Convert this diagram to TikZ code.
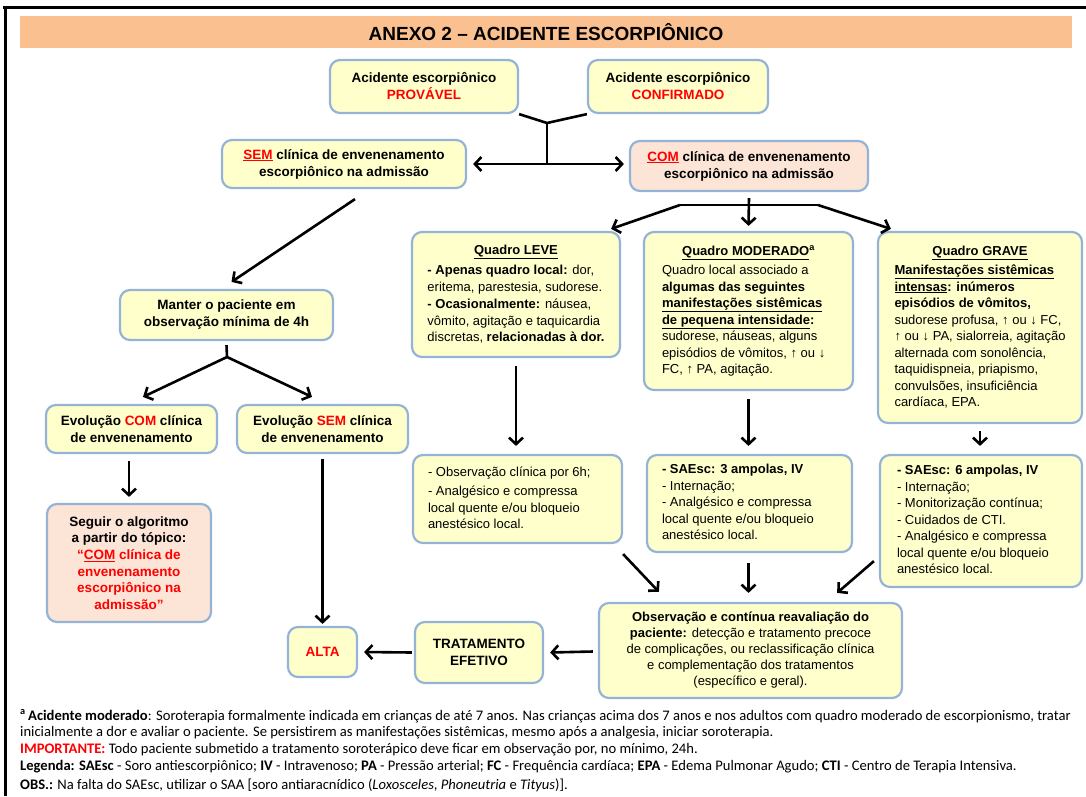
\documentclass[tikz,border=0pt]{standalone}
\usepackage{fontspec}
\setmainfont{Liberation Sans}
\newfontfamily\notefont{Carlito}
\usetikzlibrary{arrows.meta,calc}
\definecolor{boxfill}{HTML}{FFFFCC}
\definecolor{boxline}{HTML}{95B3D7}
\definecolor{pinkfill}{HTML}{FCE4D6}
\definecolor{titlefill}{HTML}{FAC090}
\definecolor{alert}{HTML}{FF0000}
\begin{document}
\begin{tikzpicture}[x=1pt,y=-1pt,
  box/.style={draw=boxline, line width=2.2pt, fill=boxfill, rounded corners=10pt, inner sep=0pt, align=center, font=\fontsize{13}{16.5}\selectfont},
  pbox/.style={box, fill=pinkfill},
  bbox/.style={box, font=\bfseries\fontsize{13.5}{17}\selectfont},
  ln/.style={line width=2.6pt},
  arr/.style={ln, -{Straight Barb[length=6.5pt,width=14pt]}},
  note/.style={anchor=base west, inner sep=0pt, font=\notefont\fontsize{14.6}{17}\selectfont},
]
\useasboundingbox (0,0) rectangle (1086,796);
% frame
\draw[line width=3pt] (3,7) -- (1086,7);
\draw[line width=3pt] (5,7) -- (5,796);
% title
\node[fill=titlefill, minimum width=1052pt, minimum height=32pt, inner sep=0pt, font=\bfseries\fontsize{19}{21}\selectfont] (title) at (546,32) {ANEXO 2 – ACIDENTE ESCORPIÔNICO};

% top boxes
\node[bbox, minimum width=188pt, minimum height=53pt] (prov) at (424,86.5) {Acidente escorpiônico\\{\color{alert}PROVÁVEL}};
\node[bbox, minimum width=180pt, minimum height=53pt] (conf) at (678,86.5) {Acidente escorpiônico\\{\color{alert}CONFIRMADO}};
\node[bbox, minimum width=244pt, minimum height=48pt] (sem) at (344,164) {{\color{alert}\underline{SEM}} clínica de envenenamento\\escorpiônico na admissão};
\node[bbox, fill=pinkfill, minimum width=238pt, minimum height=50pt] (com) at (749,166) {{\color{alert}\underline{COM}} clínica de envenenamento\\escorpiônico na admissão};

% left branch
\node[bbox, minimum width=213pt, minimum height=50pt] (manter) at (226.5,315) {Manter o paciente em\\observação mínima de 4h};
\node[bbox, minimum width=171pt, minimum height=48pt] (evcom) at (131.5,429) {Evolução {\color{alert}COM} clínica\\de envenenamento};
\node[bbox, minimum width=171pt, minimum height=48pt] (evsem) at (322.5,429) {Evolução {\color{alert}SEM} clínica\\de envenenamento};
\node[bbox, fill=pinkfill, minimum width=164pt, minimum height=118pt, font=\bfseries\fontsize{13.5}{16.7}\selectfont] (seguir) at (129,563) {Seguir o algoritmo\\a partir do tópico:\\{\color{alert}“\underline{COM} clínica de}\\{\color{alert}envenenamento}\\{\color{alert}escorpiônico na}\\{\color{alert}admissão”}};
\node[bbox, minimum width=69pt, minimum height=50pt] (alta) at (322.5,652) {\color{alert}ALTA};
\node[bbox, minimum width=128pt, minimum height=61pt] (trat) at (479,652.5) {TRATAMENTO\\EFETIVO};

% quadros
\node[box, minimum width=208pt, minimum height=125pt] (leve) at (516,294.5) {\begin{tabular}{@{}l@{}}
\multicolumn{1}{@{}c@{}}{\textbf{\underline{Quadro LEVE}}}\\[4pt]
\textbf{- Apenas quadro local:} dor,\\
eritema, parestesia, sudorese.\\[1pt]
\textbf{- Ocasionalmente:} náusea,\\
vômito, agitação e taquicardia\\
discretas, \textbf{relacionadas à dor.}
\end{tabular}};
\node[box, minimum width=209pt, minimum height=158pt] (mod) at (748.5,311) {\makebox[173pt][l]{\begin{tabular}{@{}l@{}}
\multicolumn{1}{@{}c@{}}{\hbox to 173pt{\hfil\textbf{\underline{Quadro MODERADO}\textsuperscript{a}}\hfil}}\\[3pt]
Quadro local associado a\\
\textbf{algumas das seguintes}\\
\textbf{\underline{manifestações sistêmicas}}\\
\textbf{\underline{de pequena intensidade}:}\\
sudorese, náuseas, alguns\\
episódios de vômitos, ↑ ou ↓\\
FC, ↑ PA, agitação.
\end{tabular}}};
\node[box, minimum width=204pt, minimum height=191pt] (grave) at (980,327.5) {\begin{tabular}{@{}l@{}}
\multicolumn{1}{@{}c@{}}{\textbf{\underline{Quadro GRAVE}}}\\[3pt]
\textbf{\underline{Manifestações sistêmicas}}\\
\textbf{\underline{intensas}: inúmeros}\\
\textbf{episódios de vômitos,}\\
sudorese profusa, ↑ ou ↓ FC,\\
↑ ou ↓ PA, sialorreia, agitação\\
alternada com sonolência,\\
taquidispneia, priapismo,\\
convulsões, insuficiência\\
cardíaca, EPA.
\end{tabular}};

% treatments
\node[box, minimum width=209pt, minimum height=88pt] (ta) at (517.5,499) {\makebox[179pt][l]{\begin{tabular}{@{}l@{}}
- Observação clínica por 6h;\\[3pt]
- Analgésico e compressa\\
local quente e/ou bloqueio\\
anestésico local.
\end{tabular}}};
\node[box, minimum width=205pt, minimum height=97pt] (tb) at (749.5,503.5) {\makebox[175pt][l]{\begin{tabular}{@{}l@{}}
\textbf{- SAEsc: 3 ampolas, IV}\\
- Internação;\\
- Analgésico e compressa\\
local quente e/ou bloqueio\\
anestésico local.
\end{tabular}}};
\node[box, minimum width=202pt, minimum height=132pt] (tc) at (981,521) {\makebox[168pt][l]{\begin{tabular}{@{}l@{}}
\textbf{- SAEsc: 6 ampolas, IV}\\
- Internação;\\
- Monitorização contínua;\\
- Cuidados de CTI.\\
- Analgésico e compressa\\
local quente e/ou bloqueio\\
anestésico local.
\end{tabular}}};
\node[box, minimum width=303pt, minimum height=95pt, font=\fontsize{13}{16}\selectfont] (obs) at (750.5,650.5) {\textbf{Observação e contínua reavaliação do}\\
\textbf{paciente:} detecção e tratamento precoce\\
de complicações, ou reclassificação clínica\\
e complementação dos tratamentos\\
(específico e geral).};

% connectors top
\coordinate (j1) at (547,123);
\coordinate (j2) at (547,164);
\draw[ln] (prov.south east) -- (j1) -- (conf.south west);
\draw[ln] (j1) -- (j2);
\draw[arr] (j2) -- ($(sem.east)+(6,0)$);
\draw[arr] (j2) -- ($(j2 -| com.west)+(-5,0)$);
% from com
\coordinate (bl) at (680,205);
\coordinate (br) at (818,205);
\draw[arr] ($(com.south)+(0,6)$) -- ($(mod.north)+(0,-5)$);
\draw[ln] (bl) -- (br);
\draw[arr] (bl) -- ($(leve.north east)+(-10,-2)$);
\draw[arr] (br) -- ($(grave.north west)+(14,-2)$);
% left branch
\draw[arr] ($(sem.south)+(11,10)$) -- ($(manter.north)+(5,-7)$);
\coordinate (m1) at (227,357);
\draw[ln] ($(manter.south)+(0,4)$) -- (m1);
\draw[arr] (m1) -- ($(evcom.north)+(11.5,-7)$);
\draw[arr] (m1) -- ($(evsem.north)+(-10.5,-7)$);
\draw[arr] ($(evcom.south -| seguir.north)+(0,7)$) -- ($(seguir.north)+(0,-6)$);
\draw[arr] ($(evsem.south)+(0,5)$) -- ($(alta.north)+(0,-2)$);
% quadros to treatments
\draw[arr] ($(leve.south)+(0,8)$) -- ($(leve.south |- ta.north)+(0,-8)$);
\draw[arr] ($(mod.south)+(0,8)$) -- ($(mod.south |- tb.north)+(0,-8)$);
\draw[arr] ($(grave.south)+(0,7)$) -- ($(grave.south |- tc.north)+(0,-8)$);
% treatments to obs
\draw[arr] ($(ta.south east)+(0,10)$) -- ($(obs.north west)+(61,-10)$);
\draw[arr] ($(tb.south)+(-1,10)$) -- ($(tb.south |- obs.north)+(-1,-9)$);
\draw[arr] ($(tc.south west)+(-5,-27)$) -- ($(obs.north east)+(-66,-9)$);
% bottom
\draw[arr] ($(obs.west)+(-5,1)$) -- ($(trat.east)+(6,0)$);
\draw[arr] ($(trat.west)+(-2,0)$) -- ($(alta.east)+(6,0)$);

% notes
\node[note] (f1) at (20,720) {\textsuperscript{\textbf{a}}\,\textbf{Acidente moderado}: Soroterapia formalmente indicada em crianças de até 7 anos. Nas crianças acima dos 7 anos e nos adultos com quadro moderado de escorpionismo, tratar};
\node[note] (f2) at (20,736.5) {inicialmente a dor e avaliar o paciente. Se persistirem as manifestações sistêmicas, mesmo após a analgesia, iniciar soroterapia.};
\node[note] (f3) at (20,753) {{\color{alert}\textbf{IMPORTANTE:}} Todo paciente submetido a tratamento soroterápico deve ficar em observação por, no mínimo, 24h.};
\node[note] (f4) at (20,770.5) {\textbf{Legenda: SAEsc} - Soro antiescorpiônico; \textbf{IV} - Intravenoso; \textbf{PA} - Pressão arterial; \textbf{FC} - Frequência cardíaca; \textbf{EPA} - Edema Pulmonar Agudo; \textbf{CTI} - Centro de Terapia Intensiva.};
\node[note] (f5) at (20,789) {\textbf{OBS.:} Na falta do SAEsc, utilizar o SAA [soro antiaracnídico (\textit{Loxosceles}, \textit{Phoneutria} e \textit{Tityus})].};
\end{tikzpicture}
\end{document}
